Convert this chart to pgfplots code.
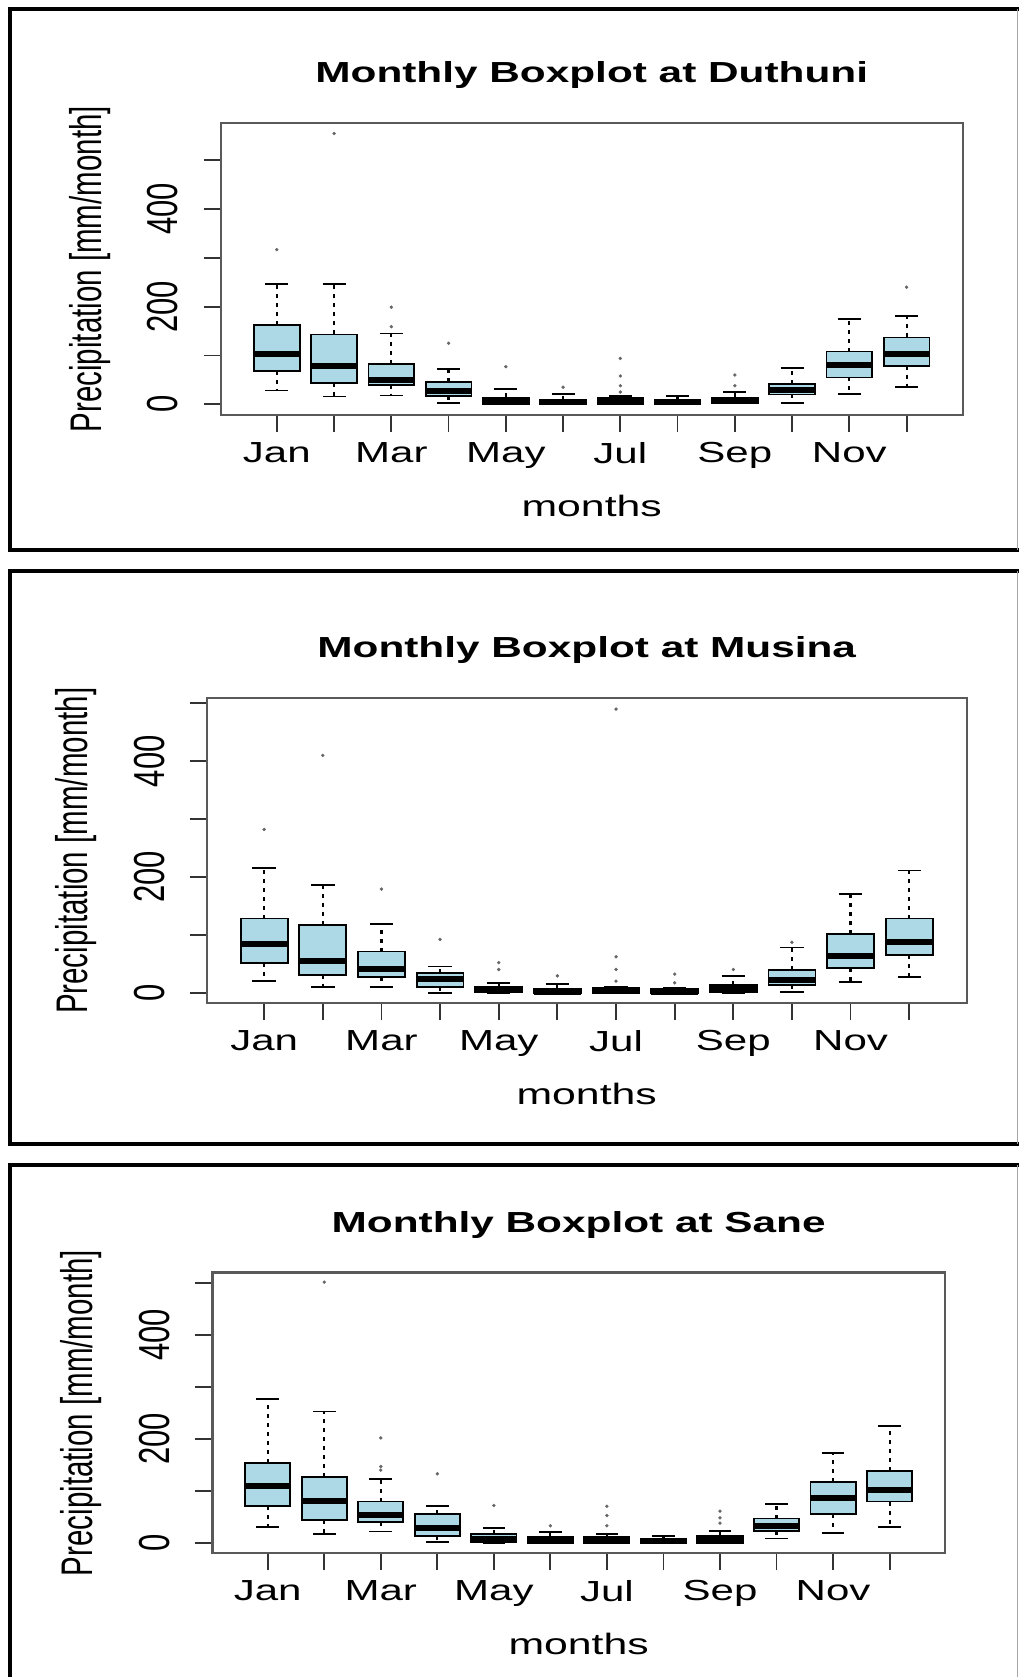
\documentclass[border=0pt]{standalone}
\usepackage{pgfplots}
\pgfplotsset{compat=1.18}
\usepgfplotslibrary{statistics}
\usepackage{fontspec}
\setmainfont{Liberation Sans}
\definecolor{boxblue}{HTML}{ADD8E6}
\newcommand\titlefont{\fontsize{29bp}{34bp}\selectfont\bfseries}
\newcommand\tickfont{\fontsize{29bp}{34bp}\selectfont}
\newcommand\ytickfont{\fontsize{31bp}{36bp}\selectfont}
\newcommand\labfont{\fontsize{29.5bp}{35bp}\selectfont}

\pgfplotsset{
  rbox/.style={
    scale only axis,
    xmin=0.02, xmax=12.98,
    xtick={1,2,3,4,5,6,7,8,9,10,11,12},
    xticklabels={Jan,,Mar,,May,,Jul,,Sep,,Nov,},
    ytick={0,100,200,300,400,500},
    yticklabels={0,,200,,400,},
    tick pos=left,
    tick align=outside,
    major tick length=17bp,
    tick style={black!80, line width=1.8bp},
    axis line style={black!65, line width=2.4bp},
    xticklabel style={font=\tickfont, anchor=north, inner sep=0pt, yshift=-10bp, xscale=1.45},
    yticklabel style={font=\ytickfont, xshift=-25bp, rotate=90, yscale=1.4, anchor=south, inner sep=0pt},
    title style={font=\titlefont, at={(axis description cs:0.5,1)}, anchor=center, yshift=42bp, xscale=1.46},
    every axis x label/.style={at={(axis description cs:0.5,0)}, yshift=-91bp, anchor=center, xscale=1.45, font=\labfont},
    every axis y label/.style={at={(axis description cs:0,0.5)}, xshift=-131bp, rotate=90, yscale=1.5, anchor=center, font=\labfont},
    xlabel={months},
    ylabel={Precipitation [mm/month]},
    boxplot/draw direction=y,
    boxplot/box extend=0.8,
    boxplot/whisker extend=0.4,
    boxplot/every box/.style={draw=black, fill=boxblue, line width=1.8bp},
    boxplot/every median/.style={draw=black, line width=6bp},
    boxplot/draw/lower whisker/.code={%
      \draw[black, line width=2.2bp, dash pattern=on 4bp off 5bp]
        (boxplot box cs:\pgfplotsboxplotvalue{lower quartile},0.5) --
        (boxplot box cs:\pgfplotsboxplotvalue{lower whisker},0.5);
      \draw[black, line width=1.8bp, solid]
        (boxplot whisker cs:\pgfplotsboxplotvalue{lower whisker},0) --
        (boxplot whisker cs:\pgfplotsboxplotvalue{lower whisker},1);
    },
    boxplot/draw/upper whisker/.code={%
      \draw[black, line width=2.2bp, dash pattern=on 4bp off 5bp]
        (boxplot box cs:\pgfplotsboxplotvalue{upper quartile},0.5) --
        (boxplot box cs:\pgfplotsboxplotvalue{upper whisker},0.5);
      \draw[black, line width=1.8bp, solid]
        (boxplot whisker cs:\pgfplotsboxplotvalue{upper whisker},0) --
        (boxplot whisker cs:\pgfplotsboxplotvalue{upper whisker},1);
    },
  },
  rbp/.style={solid, black, mark=*, mark size=1.5bp, mark options={fill=black!60, draw=black!60}},
}
% position, lower whisker, lower quartile, median, upper quartile, upper whisker
\newcommand\bp[6]{\addplot[rbp, boxplot prepared={draw position=#1, lower whisker=#2, lower quartile=#3, median=#4, upper quartile=#5, upper whisker=#6}] coordinates {};}
% same plus outliers (rows ending with \\)
\newcommand\bpo[7]{\addplot[rbp, boxplot prepared={draw position=#1, lower whisker=#2, lower quartile=#3, median=#4, upper quartile=#5, upper whisker=#6}] table[row sep=\\, y index=0] {v\\ #7};}

\begin{document}
\begin{tikzpicture}
\useasboundingbox (0,0) rectangle (1019bp,1677bp);

% ---------------- Duthuni ----------------
\begin{axis}[rbox, at={(220.7bp,1262bp)}, anchor=south west, width=742bp, height=291.7bp,
  ymin=-22, ymax=576, title={Monthly Boxplot at Duthuni}]
\bpo{1}{28}{68}{104}{162}{246}{317\\}
\bpo{2}{16}{44}{79}{143}{246}{555\\}
\bpo{3}{18}{40}{50}{83}{145}{159\\ 199\\}
\bpo{4}{2}{17}{27}{46}{72}{125\\}
\bpo{5}{0}{1}{7}{14}{31}{77\\}
\bpo{6}{0}{0.5}{4}{9}{21}{35\\}
\bpo{7}{0}{1}{7}{14}{17}{25\\ 38\\ 58\\ 94\\}
\bp{8}{0}{0.5}{4}{9}{17}
\bpo{9}{2}{3}{9}{14}{25}{38\\ 60\\}
\bp{10}{3}{20}{29}{42}{74}
\bp{11}{21}{55}{81}{108}{174}
\bpo{12}{36}{79}{102}{137}{181}{240\\}
\end{axis}

% ---------------- Musina ----------------
\begin{axis}[rbox, at={(206.7bp,673.7bp)}, anchor=south west, width=760bp, height=305bp,
  ymin=-18.4, ymax=508.6, title={Monthly Boxplot at Musina}]
\bpo{1}{20.7}{51.8}{84}{128}{216}{282\\}
\bpo{2}{10.4}{30.5}{55}{117.5}{186}{410\\}
\bpo{3}{10.4}{26.5}{41.5}{71}{118}{179\\}
\bpo{4}{0}{10.4}{24}{34.6}{45}{92\\}
\bpo{5}{0}{0.5}{4.6}{10.4}{17.3}{40\\ 52\\}
\bpo{6}{0}{0}{1.5}{6.3}{14.4}{29\\}
\bpo{7}{0}{0}{3}{7.5}{10}{20\\ 40\\ 62\\ 490\\}
\bpo{8}{0}{0}{1}{6}{8}{17\\ 32\\}
\bpo{9}{0}{1}{7}{13.8}{29.4}{40\\}
\bpo{10}{1.7}{13.8}{22}{39.2}{78}{87\\}
\bp{11}{18.4}{42}{63.4}{100.8}{170.5}
\bp{12}{26.5}{65}{88}{128}{211}
\end{axis}

% ---------------- Sane ----------------
\begin{axis}[rbox, at={(212.3bp,123.7bp)}, anchor=south west, width=732.7bp, height=280.6bp,
  ymin=-20, ymax=520, title={Monthly Boxplot at Sane}]
\bp{1}{30}{70.5}{110}{154}{277.6}
\bpo{2}{17.3}{43.6}{80}{127}{253}{502\\}
\bpo{3}{21.8}{39.7}{54}{79.5}{123}{140\\ 147\\ 202\\}
\bpo{4}{1.9}{12.8}{28}{55.8}{70.5}{133\\}
\bpo{5}{0}{1.3}{7.7}{17.3}{28.8}{72\\}
\bpo{6}{0}{0}{4.5}{10.9}{21}{33\\}
\bpo{7}{0}{0}{4.5}{10.9}{17.3}{33\\ 52.6\\ 70.5\\}
\bp{8}{0}{0}{3.2}{8.3}{14}
\bpo{9}{0}{0}{6.4}{12.8}{22.4}{38\\ 48\\ 61\\}
\bp{10}{8.3}{23}{32}{46.8}{75.6}
\bp{11}{19.2}{55}{86.5}{117.3}{173}
\bp{12}{30.8}{79.5}{102.6}{138.5}{224.4}
\end{axis}

% panel frames
\draw[black, line width=4bp] (1019bp,1667.5bp) -- (10bp,1667.5bp) -- (10bp,1126.5bp) -- (1019bp,1126.5bp);
\draw[black, line width=4bp] (1019bp,1106bp) -- (10bp,1106bp) -- (10bp,533bp) -- (1019bp,533bp);
\draw[black, line width=4bp] (1019bp,511.5bp) -- (10bp,511.5bp) -- (10bp,-5bp);
\draw[black!35, line width=1.5bp] (1017.5bp,1667.5bp) -- (1017.5bp,1126.5bp);
\draw[black!35, line width=1.5bp] (1017.5bp,1106bp) -- (1017.5bp,533bp);
\draw[black!35, line width=1.5bp] (1017.5bp,511.5bp) -- (1017.5bp,0bp);
\end{tikzpicture}
\end{document}
